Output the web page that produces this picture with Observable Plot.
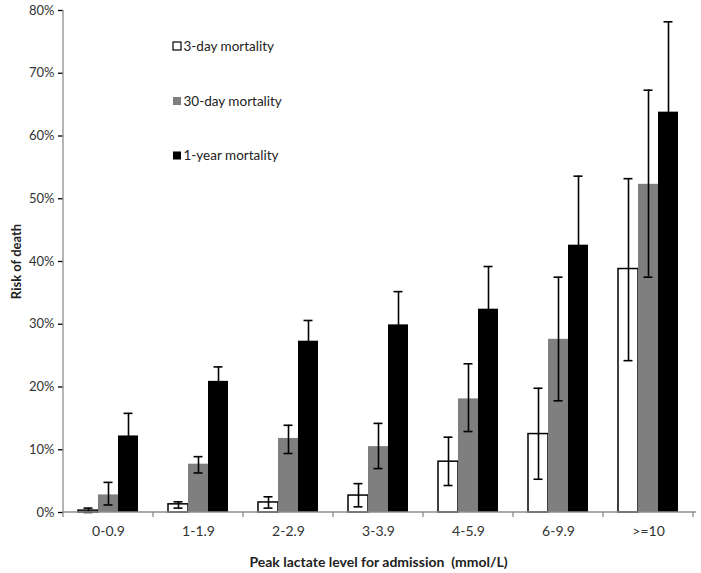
<!DOCTYPE html>
<html>
<head>
<meta charset="utf-8">
<script src="https://cdn.jsdelivr.net/npm/d3@7"></script>
<script src="https://cdn.jsdelivr.net/npm/@observablehq/plot@0.6"></script>
<style>
  html, body { margin: 0; padding: 0; background: #fff; }
  #chart { position: relative; width: 701px; height: 573px; }
</style>
</head>
<body>
<div id="chart"></div>
<script>
const categories = ["0-0.9", "1-1.9", "2-2.9", "3-3.9", "4-5.9", "6-9.9", ">=10"];
const series = ["3-day mortality", "30-day mortality", "1-year mortality"];

// values in percent
const threeDay   = [0.3, 1.3, 1.6, 2.7, 8.1, 12.5, 38.8];
const threeDayLo = [0.0, 0.7, 0.7, 0.9, 4.3, 5.3, 24.2];
const threeDayHi = [0.7, 1.7, 2.5, 4.6, 12.0, 19.8, 53.2];

const thirtyDay   = [2.8, 7.7, 11.8, 10.5, 18.1, 27.6, 52.3];
const thirtyDayLo = [1.2, 6.3, 9.4, 7.0, 12.9, 17.8, 37.5];
const thirtyDayHi = [4.8, 8.9, 13.9, 14.2, 23.7, 37.5, 67.3];

const oneYear   = [12.2, 20.9, 27.3, 29.9, 32.4, 42.6, 63.8];
const oneYearLo = [8.6, 18.6, 24.0, 24.6, 25.6, 31.6, 49.4];
const oneYearHi = [15.8, 23.2, 30.6, 35.2, 39.2, 53.6, 78.2];

const yTicks = [0, 10, 20, 30, 40, 50, 60, 70, 80];

const seriesData = [
  [threeDay, threeDayLo, threeDayHi],
  [thirtyDay, thirtyDayLo, thirtyDayHi],
  [oneYear, oneYearLo, oneYearHi]
];

const rows = [];
series.forEach((s, si) => {
  categories.forEach((c, ci) => {
    rows.push({
      cat: c,
      series: s,
      value: seriesData[si][0][ci] / 100,
      lo: seriesData[si][1][ci] / 100,
      hi: seriesData[si][2][ci] / 100
    });
  });
});

const fills = ["#ffffff", "#7f7f7f", "#000000"];
const fillOf = new Map(series.map((s, i) => [s, fills[i]]));
const whiteRows = rows.filter(d => d.series === series[0]);
const otherRows = rows.filter(d => d.series !== series[0]);

const chart = Plot.plot({
  width: 701,
  height: 573,
  marginLeft: 62,
  marginRight: 7,
  marginTop: 10,
  marginBottom: 61,
  style: { fontFamily: "Lato, 'Open Sans', sans-serif", background: "#fff", overflow: "visible" },
  fx: {
    domain: categories,
    padding: 0,
    axis: "bottom",
    tickSize: 0,
    tickPadding: 14,
    label: "Peak lactate level for admission  (mmol/L)",
    labelAnchor: "center",
    labelOffset: 54,
    labelArrow: "none"
  },
  x: { domain: series, axis: null, paddingInner: 0, paddingOuter: 0.75 },
  y: {
    domain: [0, 0.8],
    ticks: yTicks.map(v => v / 100),
    tickFormat: d3.format(".0%"),
    tickSize: 5,
    tickPadding: 4,
    label: "Risk of death",
    labelAnchor: "center",
    labelOffset: 52,
    labelArrow: "none"
  },
  marks: [
    Plot.barY(whiteRows, { fx: "cat", x: "series", y: "value", fill: "#ffffff", stroke: "#000", strokeWidth: 1.5 }),
    Plot.barY(otherRows, { fx: "cat", x: "series", y: "value", fill: d => fillOf.get(d.series) }),
    Plot.ruleX(rows, { fx: "cat", x: "series", y1: "lo", y2: "hi", stroke: "#000", strokeWidth: 1.6 }),
    Plot.tickY(rows, { fx: "cat", x: "series", y: "hi", stroke: "#000", strokeWidth: 1.6, insetLeft: 5.5, insetRight: 5.5 }),
    Plot.tickY(rows, { fx: "cat", x: "series", y: "lo", stroke: "#000", strokeWidth: 1.6, insetLeft: 5.5, insetRight: 5.5 })
  ]
});

document.getElementById("chart").appendChild(chart);

// styling & decorations
const svg = d3.select(chart);
svg.selectAll('g[aria-label="y-axis tick"]').attr("stroke", "#8c8c8c").attr("stroke-width", 1.3);
svg.selectAll('g[aria-label="y-axis tick label"]').attr("fill", "#333").style("font-size", "13px");
svg.selectAll('g[aria-label="fx-axis tick label"]').attr("fill", "#333").style("font-size", "14px");
svg.selectAll('g[aria-label="y-axis label"]').attr("fill", "#222").style("font-size", "13px").style("font-weight", "bold");
svg.selectAll('g[aria-label="fx-axis label"]').attr("fill", "#222").style("font-size", "14px").style("font-weight", "bold").style("white-space", "pre");

const fx = chart.scale("fx");
const y = chart.scale("y");
const y0 = y.apply(0);
const yTop = y.apply(0.8);
const left = fx.apply(categories[0]);
const bw = fx.bandwidth;
const right = fx.apply(categories[categories.length - 1]) + bw;

const deco = svg.append("g").attr("aria-label", "axis lines");
deco.append("line").attr("x1", left).attr("x2", left).attr("y1", yTop).attr("y2", y0)
  .attr("stroke", "#8c8c8c").attr("stroke-width", 1.3);
deco.append("line").attr("x1", left).attr("x2", right + 3).attr("y1", y0).attr("y2", y0)
  .attr("stroke", "#8c8c8c").attr("stroke-width", 1.3);
categories.concat([null]).forEach((c, i) => {
  const xx = c === null ? right : fx.apply(c);
  deco.append("line").attr("x1", xx).attr("x2", xx).attr("y1", y0).attr("y2", y0 + 5)
    .attr("stroke", "#8c8c8c").attr("stroke-width", 1.3);
});

// legend
const legend = svg.append("g").attr("aria-label", "legend")
  .attr("text-anchor", "start")
  .style("font-family", "Lato, 'Open Sans', sans-serif").style("font-size", "13.5px");
const legendY = [46, 101, 155.5];
series.forEach((s, i) => {
  const g = legend.append("g").attr("transform", `translate(173,${legendY[i]})`);
  g.append("rect").attr("x", 0).attr("y", -4).attr("width", 8).attr("height", 8)
    .attr("fill", fills[i]).attr("stroke", i === 0 ? "#000" : "none").attr("stroke-width", 1.2);
  g.append("text").attr("x", 10.5).attr("y", 0).attr("dy", "0.36em")
    .attr("text-anchor", "start").attr("fill", "#222").text(s);
});
</script>
</body>
</html>
